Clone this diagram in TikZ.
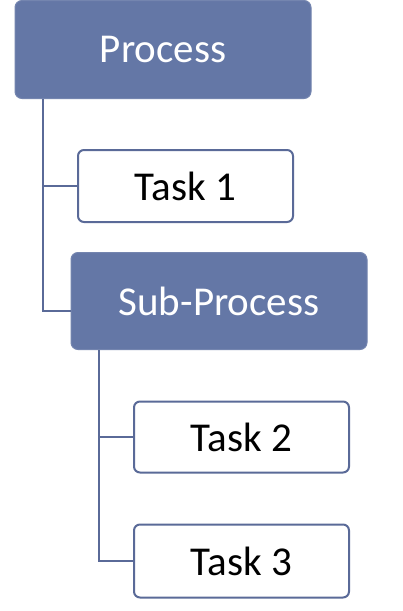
\documentclass[tikz,border=0pt]{standalone}
\usepackage{fontspec}
\setmainfont{Carlito}
\definecolor{boxblue}{HTML}{6477A6}
\definecolor{lineblue}{HTML}{5A6A98}
\begin{document}
\begin{tikzpicture}[x=1pt,y=-1pt,
  proc/.style={draw=boxblue!90!white, line width=1pt, fill=boxblue, rounded corners=7pt, text=white, font=\fontsize{41}{41}\selectfont, inner sep=0pt},
  taskbox/.style={draw=lineblue, line width=2pt, fill=white, rounded corners=6pt, text=black, font=\fontsize{41}{41}\selectfont, inner sep=0pt},
  conn/.style={draw=lineblue, line width=2.8pt}]
\useasboundingbox (0,0) rectangle (403,611);
\fill[white] (0,0) rectangle (403,611);
\node[proc, minimum width=296pt, minimum height=98pt] (p) at (163,49.5) {Process};
\node[taskbox, minimum width=215pt, minimum height=72pt] (t1) at (185.5,186) {Task 1};
\node[proc, minimum width=296pt, minimum height=97pt] (sp) at (219,301) {Sub-Process};
\node[taskbox, minimum width=215pt, minimum height=71pt] (t2) at (241.5,437) {Task 2};
\node[taskbox, minimum width=215pt, minimum height=73pt] (t3) at (241.5,561) {Task 3};
\coordinate (a) at (43,0);
\coordinate (b) at (99,0);
\coordinate (spin) at ([yshift=-10pt]sp.west);
\draw[conn] (a |- p.south) -- (a |- spin) -- (spin);
\draw[conn] (a |- t1.west) -- (t1.west);
\draw[conn] (b |- sp.south) -- (b |- t3.west) -- (t3.west);
\draw[conn] (b |- t2.west) -- (t2.west);
\end{tikzpicture}
\end{document}
